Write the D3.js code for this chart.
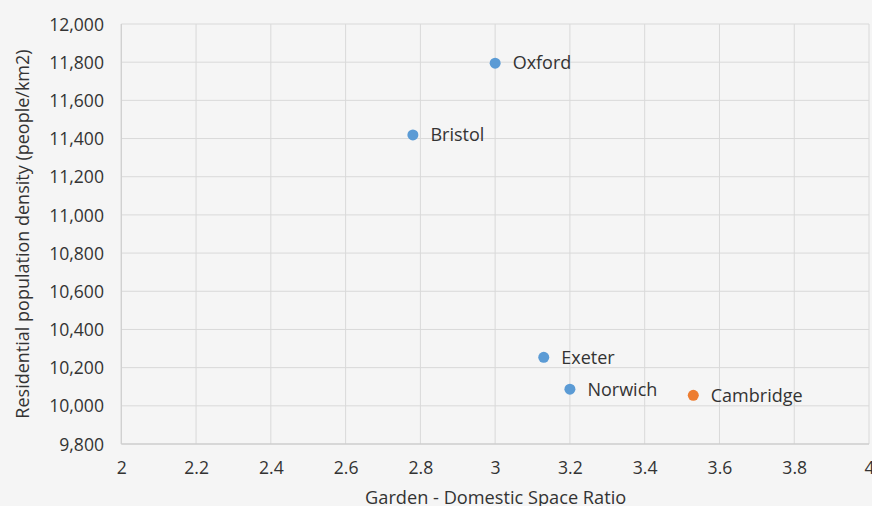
<!DOCTYPE html>
<html>
<head>
<meta charset="utf-8">
<script src="https://cdn.jsdelivr.net/npm/d3@7"></script>
<style>
  html, body { margin: 0; padding: 0; background: #f5f5f5; }
  svg { display: block; }
  text { font-family: "Open Sans", "Noto Sans", sans-serif; fill: #333; }
</style>
</head>
<body>
<svg id="chart" width="872" height="506"></svg>
<script>
const cities = ["Oxford", "Bristol", "Exeter", "Norwich", "Cambridge"];
const ratio = [3.00, 2.78, 3.13, 3.20, 3.53];
const density = [11795, 11419, 10254, 10087, 10055];
const highlight = [false, false, false, false, true];
const xTicks = [2, 2.2, 2.4, 2.6, 2.8, 3, 3.2, 3.4, 3.6, 3.8, 4];
const yTicks = [9800, 10000, 10200, 10400, 10600, 10800, 11000, 11200, 11400, 11600, 11800, 12000];

(function () {
const svg = d3.select("#chart");
const pL = 121.3, pR = 869, pT = 24, pB = 444;
const x = d3.scaleLinear().domain([2, 4]).range([pL, pR]);
const y = d3.scaleLinear().domain([9800, 12000]).range([pB, pT]);

const grid = svg.append("g");
grid.selectAll(".vx").data(xTicks).join("line")
  .attr("x1", d => x(d)).attr("x2", d => x(d))
  .attr("y1", pT).attr("y2", pB)
  .attr("stroke", "#d9d9d9").attr("stroke-width", 1);
grid.selectAll(".hy").data(yTicks).join("line")
  .attr("x1", pL).attr("x2", pR)
  .attr("y1", d => y(d)).attr("y2", d => y(d))
  .attr("stroke", "#d9d9d9").attr("stroke-width", 1);
svg.append("line").attr("x1", pL).attr("x2", pR).attr("y1", pB).attr("y2", pB)
  .attr("stroke", "#c8c8c8").attr("stroke-width", 1.2);
svg.append("line").attr("x1", pL).attr("x2", pL).attr("y1", pT).attr("y2", pB)
  .attr("stroke", "#d0d0d0").attr("stroke-width", 1.2);

const fmt = d3.format(",");
const xAxis = d3.axisBottom(x).tickValues(xTicks).tickSize(0).tickPadding(0).tickFormat(d => d3.format("")(d));
const gx = svg.append("g").attr("transform", `translate(0,${pB})`).call(xAxis);
gx.select(".domain").remove();
gx.selectAll("text").attr("dy", null).attr("y", 30).style("font-size", "17.6px").attr("fill", "#333");

const yAxis = d3.axisLeft(y).tickValues(yTicks).tickSize(0).tickPadding(0).tickFormat(fmt);
const gy = svg.append("g").attr("transform", `translate(104,0)`).call(yAxis);
gy.select(".domain").remove();
gy.selectAll("text").attr("dy", "0.35em").attr("x", 0).style("font-size", "17.6px").attr("fill", "#333");

const pts = cities.map((c, i) => ({ c, r: ratio[i], d: density[i], h: highlight[i] }));
svg.append("g").selectAll("circle").data(pts).join("circle")
  .attr("cx", d => x(d.r)).attr("cy", d => y(d.d)).attr("r", 5.5)
  .attr("fill", d => d.h ? "#ed7d31" : "#5b9bd5");
svg.append("g").selectAll("text").data(pts).join("text")
  .attr("x", d => x(d.r) + 17.5).attr("y", d => y(d.d)).attr("dy", "0.35em")
  .style("font-size", "18px").text(d => d.c);

svg.append("text").attr("x", (pL + pR) / 2 + 0.5).attr("y", 504).attr("text-anchor", "middle")
  .style("font-size", "18.2px").text("Garden - Domestic Space Ratio");
svg.append("text").attr("transform", `translate(28.5,${(pT + pB) / 2}) rotate(-90)`)
  .attr("text-anchor", "middle").style("font-size", "18px")
  .text("Residential population density (people/km2)");
})();
</script>
</body>
</html>
